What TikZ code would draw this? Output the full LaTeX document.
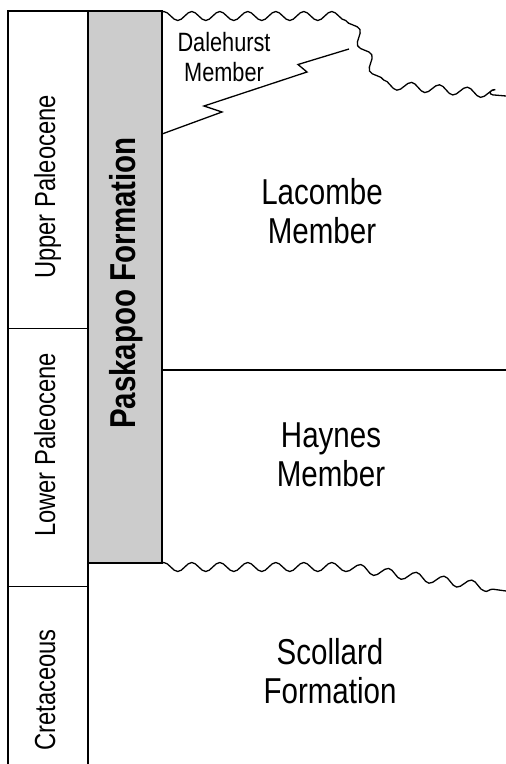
\documentclass[tikz,border=0pt]{standalone}
\usepackage{fontspec}
\setmainfont[FakeStretch=0.82]{Liberation Sans}
\usetikzlibrary{positioning}
\usetikzlibrary{decorations.pathmorphing}

\begin{document}
\begin{tikzpicture}[x=1pt, y=-1pt,
    every node/.style={inner sep=0pt, outer sep=0pt},
    frame/.style={line width=1.6pt},
    divider/.style={line width=0.6pt},
    wavy/.style={line width=1.3pt, decorate,
      decoration={snake, segment length=28pt, amplitude=4.5pt}},
    unit/.style={align=center, font=\fontsize{36}{38.5}\selectfont},
    epoch/.style={rotate=90, anchor=base, font=\fontsize{29}{32}\selectfont}]

    \useasboundingbox[fill=white] (0,0) rectangle (506,764);

    % Define coordinates
    \coordinate (lt) at (8,11);
    \coordinate (lb) at (8,764);
    \coordinate (ct) at (88,11);
    \coordinate (cb) at (88,764);
    \coordinate (pt) at (162,11);
    \coordinate (pb) at (162,563);
    \coordinate (d1l) at (8,328);
    \coordinate (d1r) at (88,328);
    \coordinate (d2l) at (8,586);
    \coordinate (d2r) at (88,586);
    \coordinate (hl) at (162,370);
    \coordinate (hr) at (506,370);
    \coordinate (dl) at (162,134);
    \coordinate (dr) at (349,49);

    % Columns
    \draw[frame, fill=black!20] (ct) rectangle (pb);
    \draw[frame] (lb) -- (lt) -- (ct);
    \draw[frame] (ct |- pb) -- (cb);
    \draw[divider] (d1l) -- (d1r);
    \draw[divider] (d2l) -- (d2r);

    % Contacts
    \draw[frame] (hl) -- (hr);
    \draw[line width=1.3pt] (dl) -- (222,112) -- (204,106) -- (307,72)
      -- (298,64.5) -- (dr);
    \begin{scope}
      \clip (162,0) rectangle (506,764);
      \draw[wavy] (155,16) -- (334,16) -- (366,84) -- (506,96);
      \draw[wavy] (155,567) -- (335,567) -- (506,591);
    \end{scope}

    % Labels
    \node[epoch] (up) at (55,187) {Upper Paleocene};
    \node[epoch] (lp) at (55,445) {Lower Paleocene};
    \node[epoch] (cr) at (55,690) {Cretaceous};
    \node[epoch, font=\fontsize{36}{40}\selectfont\bfseries] (pk) at (135,283)
      {Paskapoo Formation};
    \node[unit, font=\fontsize{26.5}{30}\selectfont] (dh) at (224,57)
      {Dalehurst\\Member};
    \node[unit] (lc) at (322,211) {Lacombe\\Member};
    \node[unit] (hy) at (331,455) {Haynes\\Member};
    \node[unit] (sc) at (330,671) {Scollard\\Formation};
\end{tikzpicture}
\end{document}
